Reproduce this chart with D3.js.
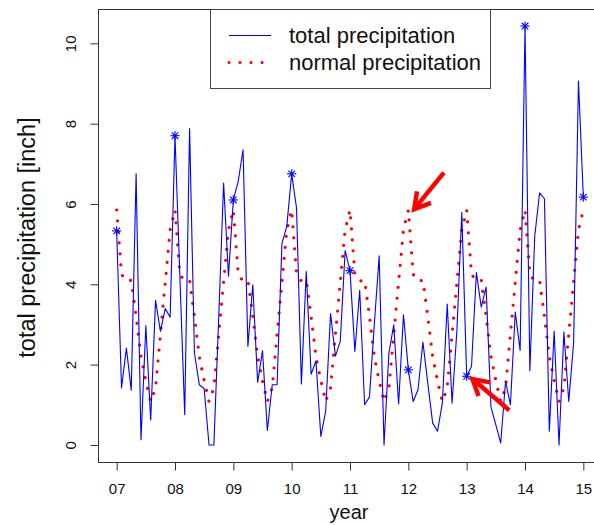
<!DOCTYPE html>
<html>
<head>
<meta charset="utf-8">
<script src="https://cdn.jsdelivr.net/npm/d3@7"></script>
<style>
  html, body { margin: 0; padding: 0; background: #fff; }
  svg { display: block; font-family: "Liberation Sans", Arial, Helvetica, sans-serif; }
</style>
</head>
<body>
<svg id="chart" width="594" height="525"></svg>
<script>
// Monthly totals, January 2007 through January 2015 (inches)
const startYear = 7;
const totalPrecip = [
  5.33, 1.42, 2.41, 1.36, 6.75, 0.13, 2.97, 0.62, 3.60, 2.83, 3.40, 3.18,
  7.70, 4.20, 0.75, 7.88, 2.29, 1.50, 1.40, 0.00, 0.00, 3.20, 6.52, 4.20,
  6.10, 6.56, 7.35, 2.45, 3.99, 1.56, 2.35, 0.36, 1.50, 1.50, 5.02, 5.45,
  6.75, 5.90, 1.52, 4.32, 1.76, 2.09, 0.21, 0.85, 3.27, 2.21, 2.58, 4.84,
  4.34, 2.33, 3.85, 1.00, 1.19, 3.00, 4.71, 0.00, 2.29, 2.99, 1.02, 3.24,
  1.87, 1.08, 1.38, 2.56, 1.54, 0.55, 0.34, 1.04, 3.51, 1.04, 2.87, 5.79,
  1.71, 1.96, 4.29, 3.43, 3.93, 0.95, 0.50, 0.05, 1.58, 1.00, 3.31, 2.35,
  10.43, 1.85, 5.19, 6.28, 6.13, 0.34, 2.83, 0.00, 2.81, 1.08, 2.54, 9.06,
  6.17
];
// Long-term monthly normals, Jan..Dec (inches)
const normalMonthly = [5.85, 4.25, 4.08, 4.10, 3.20, 2.20, 1.60, 1.08, 1.42, 2.75, 4.05, 5.35];

const yearTicks = [7, 8, 9, 10, 11, 12, 13, 14, 15];
const yearTickLabels = ["07", "08", "09", "10", "11", "12", "13", "14", "15"];
const precipTicks = [0, 2, 4, 6, 8, 10];
const legendLabels = ["total precipitation", "normal precipitation"];

// Annotation arrows, in data units (year, inches)
const arrowNotes = [
  { fromYear: 12.61, fromValue: 6.78, toYear: 12.10, toValue: 5.87 },
  { fromYear: 13.73, fromValue: 0.86, toYear: 13.10, toValue: 1.64 }
];

const totalSeries = totalPrecip.map((v, i) => ({ t: startYear + i / 12, v }));
const normalSeries = totalPrecip.map((_, i) => ({ t: startYear + i / 12, v: normalMonthly[i % 12] }));
const januaryPoints = totalSeries.filter((d, i) => i % 12 === 0);

const svg = d3.select("#chart");
const box = { left: 98, right: 602, top: 9.3, bottom: 461.7 };

// R-style 4% padding around the data range
const tExt = d3.extent(totalSeries, d => d.t);
const tPad = (tExt[1] - tExt[0]) * 0.04;
const x = d3.scaleLinear().domain([tExt[0] - tPad, tExt[1] + tPad]).range([box.left, box.right]);
const vMax = d3.max(totalPrecip.concat(normalMonthly));
const vPad = vMax * 0.04;
const y = d3.scaleLinear().domain([0 - vPad, vMax + vPad]).range([box.bottom, box.top]);

// Dotted style shared by the normal curve and its legend key
const dotWidth = 3.2, dotPattern = "0.01 11";

// Series
const line = d3.line().x(d => x(d.t)).y(d => y(d.v));
svg.append("path").datum(normalSeries)
  .attr("d", line).attr("fill", "none")
  .attr("stroke", "#ff0000").attr("stroke-width", dotWidth)
  .attr("stroke-linecap", "round")
  .attr("stroke-dasharray", dotPattern);
svg.append("path").datum(totalSeries)
  .attr("d", line).attr("fill", "none")
  .attr("stroke", "#0000ff").attr("stroke-width", 1.1)
  .attr("stroke-linejoin", "round");

// Asterisk markers on each January
const star = svg.append("g").selectAll("g").data(januaryPoints).join("g")
  .attr("transform", d => `translate(${x(d.t)},${y(d.v)})`)
  .attr("stroke", "#0000ff").attr("stroke-width", 1.1);
const r = 4.6, rd = 3.3;
star.append("line").attr("x1", -r).attr("x2", r).attr("y1", 0).attr("y2", 0);
star.append("line").attr("x1", 0).attr("x2", 0).attr("y1", -r).attr("y2", r);
star.append("line").attr("x1", -rd).attr("x2", rd).attr("y1", -rd).attr("y2", rd);
star.append("line").attr("x1", -rd).attr("x2", rd).attr("y1", rd).attr("y2", -rd);

// Annotation arrows with open heads
const arrowG = svg.append("g").attr("stroke", "#ff0000").attr("stroke-width", 4.5)
  .attr("stroke-linecap", "butt").attr("fill", "none");
arrowNotes.forEach(a => {
  const x0 = x(a.fromYear), y0 = y(a.fromValue), x1 = x(a.toYear), y1 = y(a.toValue);
  const ang = Math.atan2(y1 - y0, x1 - x0);
  const head = 18, spread = Math.PI / 6;
  arrowG.append("line").attr("x1", x0).attr("y1", y0).attr("x2", x1).attr("y2", y1);
  arrowG.append("path").attr("stroke-linejoin", "miter")
    .attr("d", `M${x1 - head * Math.cos(ang - spread)},${y1 - head * Math.sin(ang - spread)}L${x1},${y1}L${x1 - head * Math.cos(ang + spread)},${y1 - head * Math.sin(ang + spread)}`);
});

// Plot frame
svg.append("rect")
  .attr("x", box.left + 0.5).attr("y", Math.round(box.top) + 0.5)
  .attr("width", box.right - box.left).attr("height", Math.round(box.bottom) - Math.round(box.top))
  .attr("fill", "none").attr("stroke", "#333").attr("stroke-width", 1);

// Axes
const xAxis = d3.axisBottom(x).tickValues(yearTicks)
  .tickFormat((d, i) => yearTickLabels[i]).tickSize(8).tickPadding(13);
const gx = svg.append("g").attr("transform", `translate(0,${Math.round(box.bottom) + 0.5})`).call(xAxis);
gx.select(".domain").remove();
gx.selectAll("line").attr("stroke", "#333");
gx.selectAll("text").attr("font-size", 15).attr("fill", "#111").attr("font-family", null);

const yAxis = d3.axisLeft(y).tickValues(precipTicks).tickSize(8).tickFormat(d3.format("d"));
const gy = svg.append("g").attr("transform", `translate(${box.left + 0.5},0)`).call(yAxis);
gy.select(".domain").remove();
gy.selectAll("line").attr("stroke", "#333");
gy.selectAll("text")
  .attr("font-size", 15).attr("fill", "#111").attr("font-family", null)
  .attr("x", null).attr("dy", null).attr("text-anchor", "middle")
  .attr("transform", "translate(-23,0) rotate(-90)")
  .attr("y", 0);

// Axis titles
svg.append("text").attr("x", (box.left + box.right) / 2 - 1).attr("y", 519)
  .attr("text-anchor", "middle").attr("font-size", 20).attr("fill", "#111").text("year");
svg.append("text").attr("transform", `translate(35,${(box.top + box.bottom) / 2 + 2}) rotate(-90)`)
  .attr("text-anchor", "middle").attr("font-size", 23.5).attr("fill", "#111")
  .text("total precipitation [inch]");

// Legend
const lg = svg.append("g");
lg.append("rect").attr("x", 210.5).attr("y", 9.5).attr("width", 280).attr("height", 79)
  .attr("fill", "#fff").attr("stroke", "#444").attr("stroke-width", 1);
const legendRows = [
  { label: legendLabels[0], color: "#0000ff", width: 1.1, dash: null, cap: "butt", x2: 271, yPos: 35.5 },
  { label: legendLabels[1], color: "#ff0000", width: dotWidth, dash: dotPattern, cap: "round", x2: 264, yPos: 62.5 }
];
legendRows.forEach(row => {
  lg.append("line").attr("x1", 229).attr("x2", row.x2).attr("y1", row.yPos).attr("y2", row.yPos)
    .attr("stroke", row.color).attr("stroke-width", row.width)
    .attr("stroke-linecap", row.cap)
    .attr("stroke-dasharray", row.dash);
  lg.append("text").attr("x", 289).attr("y", row.yPos + 7.5)
    .attr("font-size", 22).attr("fill", "#111").text(row.label);
});
</script>
</body>
</html>
